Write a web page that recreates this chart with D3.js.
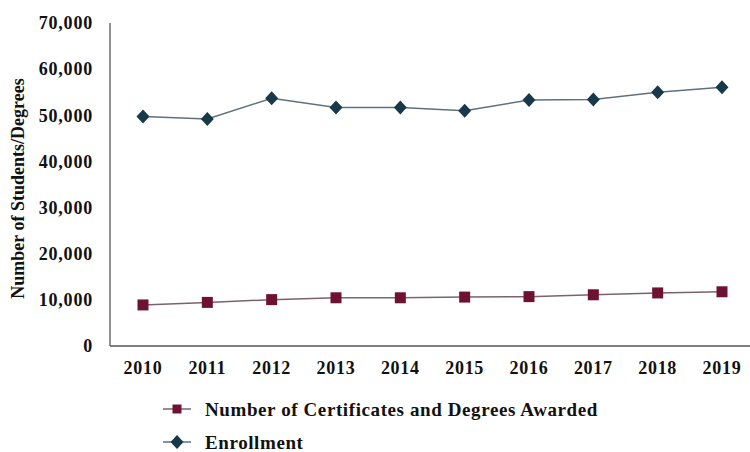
<!DOCTYPE html>
<html>
<head>
<meta charset="utf-8">
<script src="https://cdn.jsdelivr.net/npm/d3@7"></script>
<style>
  html, body { margin: 0; padding: 0; background: #ffffff; }
  svg { display: block; }
  text { font-family: "Liberation Serif", "Times New Roman", serif; font-weight: bold; fill: #111; }
</style>
</head>
<body>
<svg id="chart" width="750" height="452"></svg>
<script>
const years = ["2010","2011","2012","2013","2014","2015","2016","2017","2018","2019"];
const awarded = [8900, 9450, 10050, 10450, 10450, 10600, 10700, 11100, 11500, 11750];
const enrollment = [49750, 49200, 53700, 51700, 51700, 51000, 53300, 53400, 55000, 56100];
const yTicks = [0, 10000, 20000, 30000, 40000, 50000, 60000, 70000];
const seriesNames = ["Number of Certificates and Degrees Awarded", "Enrollment"];
const yTitle = "Number of Students/Degrees";

const svg = d3.select("#chart");
const x = d3.scalePoint().domain(years).range([143, 722]);
const y = d3.scaleLinear().domain([0, 70000]).range([346, 23]);

// axes lines
svg.append("line").attr("x1", 110).attr("x2", 110).attr("y1", y(70000)).attr("y2", y(0))
  .attr("stroke", "#555").attr("stroke-width", 1.3);
svg.append("line").attr("x1", 110).attr("x2", 750).attr("y1", y(0)).attr("y2", y(0))
  .attr("stroke", "#555").attr("stroke-width", 1.3);

// y tick labels
const fmt = d3.format(",");
svg.append("g").selectAll("text").data(yTicks).join("text")
  .attr("x", 93).attr("y", d => y(d)).attr("dy", "0.35em")
  .attr("text-anchor", "end").style("font-size", "18px").style("letter-spacing", "0.8px")
  .text(d => fmt(d));

// x tick labels
svg.append("g").selectAll("text").data(years).join("text")
  .attr("x", d => x(d)).attr("y", 374)
  .attr("text-anchor", "middle").style("font-size", "18px").style("letter-spacing", "0.7px")
  .text(d => d);

// y title
svg.append("text")
  .attr("transform", `translate(24, ${(y(70000) + y(0)) / 2 + 4}) rotate(-90)`)
  .attr("text-anchor", "middle").style("font-size", "18px")
  .text(yTitle);

const line = d3.line().x((d, i) => x(years[i])).y(d => y(d));

// awarded series
const awColor = "#6e1232", awLine = "#7a6468";
const enColor = "#17394a", enLine = "#5f717b";

svg.append("path").datum(awarded).attr("d", line)
  .attr("fill", "none").attr("stroke", awLine).attr("stroke-width", 1.5);
svg.append("g").selectAll("rect").data(awarded).join("rect")
  .attr("x", (d, i) => x(years[i]) - 5.5).attr("y", d => y(d) - 5.5)
  .attr("width", 11).attr("height", 11).attr("fill", awColor);

svg.append("path").datum(enrollment).attr("d", line)
  .attr("fill", "none").attr("stroke", enLine).attr("stroke-width", 1.5);
const diamond = (cx, cy) => `M${cx},${cy - 7}L${cx + 6.5},${cy}L${cx},${cy + 7}L${cx - 6.5},${cy}Z`;
svg.append("g").selectAll("path").data(enrollment).join("path")
  .attr("d", (d, i) => diamond(x(years[i]), y(d))).attr("fill", enColor);

// legend
const legend = svg.append("g");
const legY = [409, 442];
const legColors = [[awLine, awColor], [enLine, enColor]];
legY.forEach((ly, i) => {
  legend.append("line").attr("x1", 163).attr("x2", 191).attr("y1", ly).attr("y2", ly)
    .attr("stroke", legColors[i][0]).attr("stroke-width", 1.5);
  if (i === 0) {
    legend.append("rect").attr("x", 177 - 4.5).attr("y", ly - 4.5).attr("width", 9).attr("height", 9)
      .attr("fill", legColors[i][1]);
  } else {
    legend.append("path").attr("d", diamond(177, ly)).attr("fill", legColors[i][1]);
  }
  legend.append("text").attr("x", 205).attr("y", ly).attr("dy", "0.35em")
    .style("font-size", "19px").style("letter-spacing", "0.6px")
    .text(seriesNames[i]);
});
</script>
</body>
</html>
